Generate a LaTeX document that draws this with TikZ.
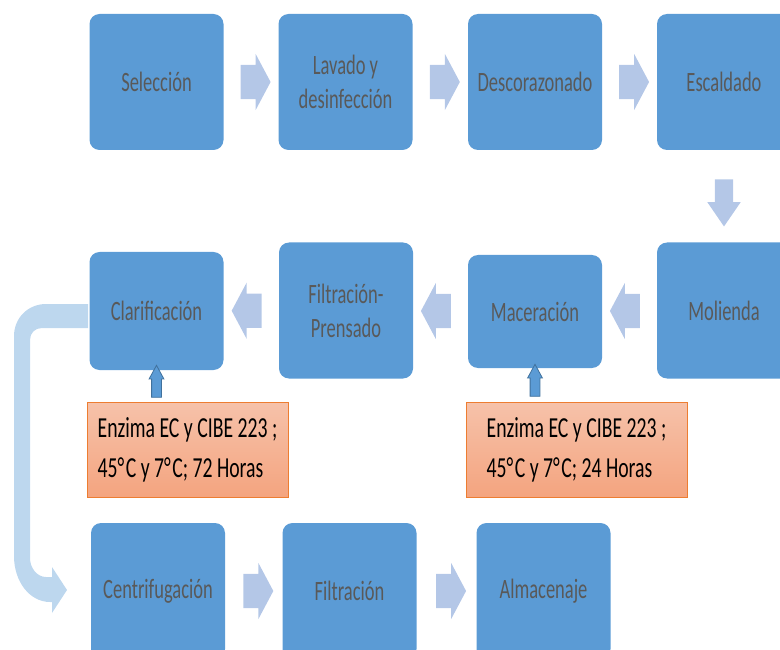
\documentclass[tikz,border=0pt]{standalone}
\usepackage{fontspec}
\setmainfont{Carlito}
\newfontfamily\stepfont{Carlito}[FakeStretch=0.66]
\newfontfamily\notefont{Carlito}[FakeStretch=0.68]
\usepackage{tikz}
\usetikzlibrary{shapes.arrows,calc}
\definecolor{stepblue}{HTML}{5B9BD5}
\definecolor{stepline}{HTML}{41719C}
\definecolor{steptext}{HTML}{595959}
\definecolor{flowblue}{HTML}{B4C7E7}
\definecolor{bendblue}{HTML}{BDD7EE}
\definecolor{notetop}{HTML}{F6C2AA}
\definecolor{notebot}{HTML}{F4A47F}
\definecolor{noteline}{HTML}{ED7D31}
\newcommand{\grad}{°\kern1.5pt}

\begin{document}
\begin{tikzpicture}[
    x=1pt, y=-1pt,             % pixel grid, y going down
    stepbox/.style={rectangle, rounded corners=10pt, fill=stepblue,
      text=steptext, minimum width=134pt, minimum height=136pt,
      inner sep=0pt, align=center, font=\stepfont\fontsize{28}{34}\selectfont},
    notebox/.style={rectangle, draw=noteline, line width=1pt,
      top color=notetop, bottom color=notebot, text=black,
      inner sep=0pt, align=left, minimum height=95pt,
      font=\notefont\fontsize{29}{40}\selectfont},
    flowarrow/.style={single arrow, fill=flowblue, inner xsep=0pt, inner ysep=17pt,
      minimum height=30pt, single arrow head extend=11pt,
      single arrow tip angle=124, single arrow head indent=0pt},
    downarrow/.style={single arrow, fill=flowblue, inner xsep=9pt, inner ysep=0pt,
      minimum height=47pt, single arrow head extend=7.5pt,
      single arrow tip angle=69, shape border rotate=270},
    enzarrow/.style={single arrow, fill=stepblue, draw=stepline, line width=0.8pt,
      inner xsep=4.5pt, inner ysep=0pt, minimum height=32pt,
      single arrow head extend=2.5pt, single arrow tip angle=57,
      shape border rotate=90}
  ]
  \useasboundingbox (0,0) rectangle (780,650);
  \clip (0,0) rectangle (780,650);

  % first row
  \node[stepbox] (sel)  at (156.5,82) {Selección};
  \node[stepbox] (lav)  at (345.5,82) {Lavado y\\desinfección};
  \node[stepbox] (desc) at (535,82)   {Descorazonado};
  \node[stepbox] (esc)  at (724,82)   {Escaldado};

  % second row, right to left
  \node[stepbox] (mol) at (724,310.5) {Molienda};
  \node[stepbox, minimum height=113pt] (mac) at (535,311.5) {Maceración};
  \node[stepbox] (fil) at (346,310.5) {Filtración-\\Prensado};
  \node[stepbox, minimum height=118pt] (cla) at (156.5,311) {Clarificación};

  % third row
  \node[stepbox] (cen)  at (158,591)   {Centrifugación};
  \node[stepbox] (filt) at (349.5,591) {Filtración};
  \node[stepbox] (alm)  at (543.5,591) {Almacenaje};

  % enzyme notes
  \node[notebox, minimum width=201pt] (enzA) at (187.5,449.5)
    {Enzima EC y CIBE 223 ;\\45\grad C y 7\grad C; 72 Horas};
  \node[notebox, minimum width=221pt] (enzB) at (576.5,449.5)
    {Enzima EC y CIBE 223 ;\\45\grad C y 7\grad C; 24 Horas};

  % block arrows between the steps
  \node[flowarrow] at ($(sel.east)!0.5!(lav.west)$) {};
  \node[flowarrow] at ($(lav.east)!0.5!(desc.west)$) {};
  \node[flowarrow] at ($(desc.east)!0.5!(esc.west)$) {};
  \node[downarrow] at ($(esc.south)!0.5!(mol.north)$) {};
  \node[flowarrow, shape border rotate=180] at ($(mol.west)!0.5!(mac.east)$) {};
  \node[flowarrow, shape border rotate=180] at ($(mac.west)!0.5!(fil.east)$) {};
  \node[flowarrow, shape border rotate=180] at ($(fil.west)!0.5!(cla.east)$) {};
  \node[flowarrow] at ($(cen.east)!0.5!(filt.west)$) {};
  \node[flowarrow] at ($(filt.east)!0.5!(alm.west)$) {};

  % enzyme arrows up into the boxes
  \node[enzarrow] at ($(cla.south)!0.5!(cla.south |- enzA.north)$) {};
  \node[enzarrow] at ($(mac.south)!0.5!(mac.south |- enzB.north)$) {};

  % bent arrow from clarificacion down to centrifugacion
  \fill[bendblue] (88,304) -- (46,304) .. controls (28,304) and (14,318) .. (14,336)
    -- (14,556) .. controls (14,582) and (30,602) .. (50,602) -- (52,602)
    -- (52,613) -- (67,590) -- (52,567) -- (52,577) -- (46,577)
    .. controls (37,577) and (30,568) .. (30,558) -- (30,340)
    .. controls (30,333) and (35,328) .. (42,328) -- (88,328) -- cycle;
\end{tikzpicture}
\end{document}
